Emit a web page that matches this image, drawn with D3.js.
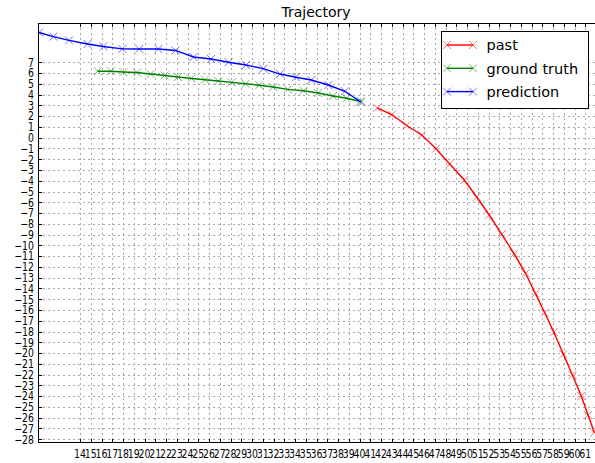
<!DOCTYPE html>
<html>
<head>
<meta charset="utf-8">
<script src="https://cdn.jsdelivr.net/npm/d3@7"></script>
<style>
  html, body { margin: 0; padding: 0; background: #fff; }
  svg { display: block; }
  text { font-family: "DejaVu Sans", sans-serif; }
</style>
</head>
<body>
<svg id="chart" width="595" height="463"></svg>
<script>
// ---- data ----
const pastX = [41.66, 43.02, 44.39, 45.80, 47.12, 48.39, 49.75, 50.90, 52.07, 53.23,
               54.39, 55.44, 56.37, 57.23, 58.07, 58.96, 59.81, 60.63, 61.26, 61.84];
const pastY = [2.77, 2.13, 1.13, 0.25, -1.03, -2.44, -3.93, -5.51, -7.18, -8.97,
               -10.78, -12.59, -14.48, -16.25, -18.04, -20.10, -22.03, -23.98, -25.75, -27.37];

const truthX = [15.65, 16.88, 18.03, 19.30, 20.56, 21.86, 23.12, 24.37, 25.63, 26.87,
                28.11, 29.40, 30.67, 31.98, 33.32, 34.79, 36.17, 37.53, 38.81, 40.20];
const truthY = [6.17, 6.17, 6.10, 6.05, 5.91, 5.78, 5.64, 5.50, 5.38, 5.26,
                5.14, 5.01, 4.87, 4.71, 4.49, 4.36, 4.15, 3.87, 3.66, 3.34];

const predX = [10.19, 11.52, 12.98, 14.70, 16.17, 17.93, 19.51, 21.30, 22.88, 24.56,
               26.19, 27.81, 29.44, 31.05, 32.60, 34.09, 35.52, 37.10, 38.65, 40.05];
const predY = [9.77, 9.38, 9.04, 8.70, 8.47, 8.25, 8.24, 8.24, 8.10, 7.49,
               7.31, 7.01, 6.75, 6.41, 5.91, 5.61, 5.36, 4.89, 4.31, 3.36];

const xTicks = [14, 15, 16, 17, 18, 19, 20, 21, 22, 23, 24, 25, 26, 27, 28, 29, 30, 31, 32, 33,
                34, 35, 36, 37, 38, 39, 40, 41, 42, 43, 44, 45, 46, 47, 48, 49, 50, 51, 52, 53,
                54, 55, 56, 57, 58, 59, 60, 61];
const yTicks = [-28, -27, -26, -25, -24, -23, -22, -21, -20, -19, -18, -17, -16, -15, -14, -13,
                -12, -11, -10, -9, -8, -7, -6, -5, -4, -3, -2, -1, 0, 1, 2, 3, 4, 5, 6, 7];

const seriesNames = ["past", "ground truth", "prediction"];
const seriesColors = ["#ff0000", "#008000", "#0000ff"];
const titleText = "Trajectory";

// ---- layout ----
const svg = d3.select("#chart");
const L = 38, R = 596, T = 23, B = 443;
const x = d3.scaleLinear().domain([10.093, 62.0]).range([L, R]);
const y = d3.scaleLinear().domain([-28.35, 10.65]).range([B, T]);

svg.append("defs").append("clipPath").attr("id", "clip")
  .append("rect").attr("x", L).attr("y", T).attr("width", R - L).attr("height", B - T);

// grid
const grid = svg.append("g").attr("clip-path", "url(#clip)");
grid.selectAll("line.vx").data(xTicks).join("line")
  .attr("x1", d => Math.round(x(d)) + 0.5).attr("x2", d => Math.round(x(d)) + 0.5)
  .attr("y1", T).attr("y2", B)
  .attr("stroke", "#a8a8a8").attr("stroke-width", 1).attr("stroke-dasharray", "2,3");
grid.selectAll("line.hy").data(yTicks).join("line")
  .attr("y1", d => Math.round(y(d)) + 0.5).attr("y2", d => Math.round(y(d)) + 0.5)
  .attr("x1", L).attr("x2", R)
  .attr("stroke", "#a8a8a8").attr("stroke-width", 1).attr("stroke-dasharray", "2,3");

// series
const series = [
  { name: seriesNames[0], color: seriesColors[0], xs: pastX, ys: pastY },
  { name: seriesNames[1], color: seriesColors[1], xs: truthX, ys: truthY },
  { name: seriesNames[2], color: seriesColors[2], xs: predX, ys: predY }
];
const line = d3.line().x(d => x(d[0])).y(d => y(d[1]));
const plot = svg.append("g").attr("clip-path", "url(#clip)");
const ms = 4;
function drawX(g, cx, cy, color) {
  g.append("path")
    .attr("d", `M${cx - ms},${cy - ms}L${cx + ms},${cy + ms}M${cx - ms},${cy + ms}L${cx + ms},${cy - ms}`)
    .attr("stroke", color).attr("stroke-width", 0.8).attr("stroke-opacity", 0.7).attr("fill", "none");
}
series.forEach(s => {
  const pts = s.xs.map((v, i) => [v, s.ys[i]]);
  plot.append("path").datum(pts).attr("d", line)
    .attr("fill", "none").attr("stroke", s.color).attr("stroke-width", 1.4);
  pts.forEach(p => drawX(plot, x(p[0]), y(p[1]), s.color));
});

// spines
svg.append("rect").attr("x", L + 0.5).attr("y", T + 0.5).attr("width", R - L).attr("height", B - T - 1)
  .attr("fill", "none").attr("stroke", "#000").attr("stroke-width", 1);

// ticks (inward)
const tk = svg.append("g").attr("stroke", "#000").attr("stroke-width", 1);
xTicks.forEach(d => {
  const px = Math.round(x(d)) + 0.5;
  tk.append("line").attr("x1", px).attr("x2", px).attr("y1", B).attr("y2", B - 4);
  tk.append("line").attr("x1", px).attr("x2", px).attr("y1", T).attr("y2", T + 4);
});
yTicks.forEach(d => {
  const py = Math.round(y(d)) + 0.5;
  tk.append("line").attr("x1", L).attr("x2", L + 4).attr("y1", py).attr("y2", py);
});

// tick labels
const fmt = d3.format("d");
const xl = svg.append("g").attr("font-size", 12).attr("fill", "#000");
xTicks.forEach(d => {
  xl.append("text")
    .attr("transform", `translate(${x(d)},458) scale(0.78,1)`)
    .attr("text-anchor", "middle").text(fmt(d));
});
const yl = svg.append("g").attr("font-size", 12).attr("fill", "#000");
yTicks.forEach(d => {
  yl.append("text")
    .attr("transform", `translate(34,${y(d) + 4.3}) scale(0.78,1)`)
    .attr("text-anchor", "end").text(fmt(d));
});

// title
svg.append("text").attr("x", (L + R) / 2 - 1).attr("y", 17)
  .attr("text-anchor", "middle").attr("font-size", 14).text(titleText);

// legend
const lg = svg.append("g");
lg.append("rect").attr("x", 441.5).attr("y", 31.5).attr("width", 147).attr("height", 77)
  .attr("fill", "#fff").attr("stroke", "#000").attr("stroke-width", 1);
series.forEach((s, i) => {
  const cy = 45 + i * 23.3;
  lg.append("line").attr("x1", 447).attr("x2", 473).attr("y1", cy).attr("y2", cy)
    .attr("stroke", s.color).attr("stroke-width", 1.4);
  drawX(lg, 447, cy, s.color);
  drawX(lg, 473, cy, s.color);
  lg.append("text").attr("x", 486.5).attr("y", cy + 5.3).attr("font-size", 14.5)
    .attr("fill", "#000").text(s.name);
});
</script>
</body>
</html>
